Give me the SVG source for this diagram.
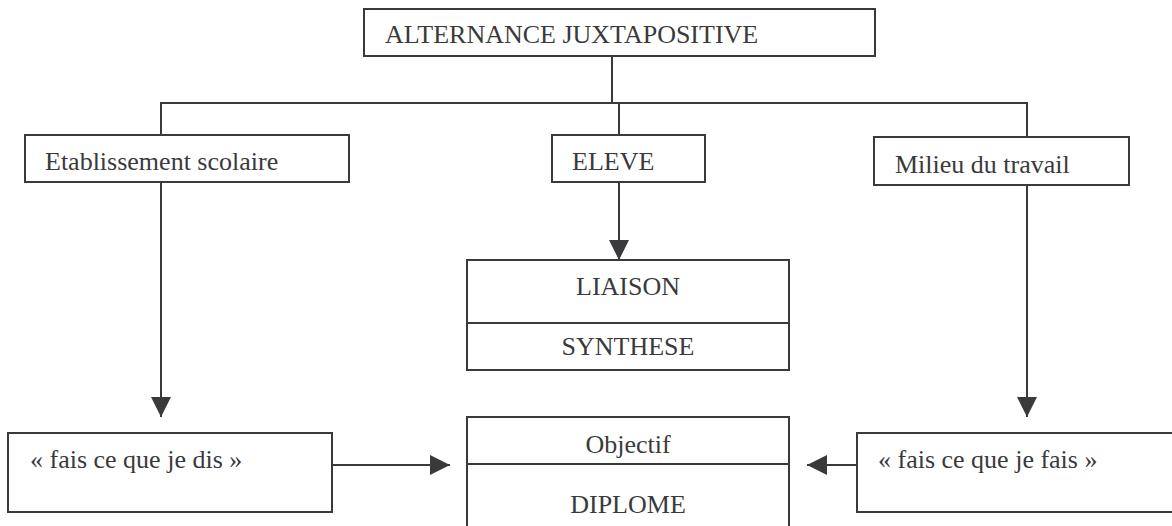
<svg xmlns="http://www.w3.org/2000/svg" width="1172" height="526" viewBox="0 0 1172 526">
  <style>
    .box { fill: #ffffff; stroke: #3a3a3c; stroke-width: 2; }
    .line { fill: none; stroke: #3a3a3c; stroke-width: 2; }
    .lbl { font-family: "Liberation Serif", "Times New Roman", serif; font-size: 26px; fill: #3a3a3c; }
    .mid { text-anchor: middle; }
  </style>
  <defs>
    <marker id="arrow" markerUnits="userSpaceOnUse" markerWidth="20" markerHeight="20" refX="20" refY="10" orient="auto">
      <path d="M0,0 L20,10 L0,20 Z" fill="#3a3a3c"/>
    </marker>
  </defs>
  <rect width="1172" height="526" fill="#ffffff"/>

  <!-- connectors -->
  <g id="connectors">
    <path class="line" d="M612,56 V103"/>
    <path class="line" d="M161,135 V103 H1027 V136"/>
    <path class="line" d="M619,103 V135"/>
    <path class="line" d="M619,182 V260" marker-end="url(#arrow)"/>
    <path class="line" d="M161,182 V417" marker-end="url(#arrow)"/>
    <path class="line" d="M1027,185 V417" marker-end="url(#arrow)"/>
    <path class="line" d="M332,465 H450" marker-end="url(#arrow)"/>
    <path class="line" d="M857,465 H807" marker-end="url(#arrow)"/>
  </g>

  <g id="node-alternance">
    <rect class="box" x="364" y="9" width="511" height="47"/>
    <text class="lbl" x="385" y="43">ALTERNANCE JUXTAPOSITIVE</text>
  </g>

  <g id="node-etablissement">
    <rect class="box" x="25" y="135" width="324" height="47"/>
    <text class="lbl" x="45" y="170">Etablissement scolaire</text>
  </g>

  <g id="node-eleve">
    <rect class="box" x="552" y="135" width="153" height="47"/>
    <text class="lbl" x="572" y="170">ELEVE</text>
  </g>

  <g id="node-milieu">
    <rect class="box" x="874" y="137" width="255" height="48"/>
    <text class="lbl" x="895" y="173">Milieu du travail</text>
  </g>

  <g id="node-liaison">
    <rect class="box" x="467" y="260" width="322" height="110"/>
    <path class="line" d="M467,323 H789"/>
    <text class="lbl mid" x="628" y="295">LIAISON</text>
    <text class="lbl mid" x="628" y="355">SYNTHESE</text>
  </g>

  <g id="node-dis">
    <rect class="box" x="8" y="433" width="324" height="79"/>
    <text class="lbl" x="30" y="468">« fais ce que je dis »</text>
  </g>

  <g id="node-diplome">
    <rect class="box" x="467" y="417" width="322" height="120"/>
    <path class="line" d="M467,464 H789"/>
    <text class="lbl mid" x="628" y="453">Objectif</text>
    <text class="lbl mid" x="628" y="513">DIPLOME</text>
  </g>

  <g id="node-fais">
    <rect class="box" x="857" y="433" width="330" height="79"/>
    <text class="lbl" x="878" y="468">« fais ce que je fais »</text>
  </g>
</svg>
